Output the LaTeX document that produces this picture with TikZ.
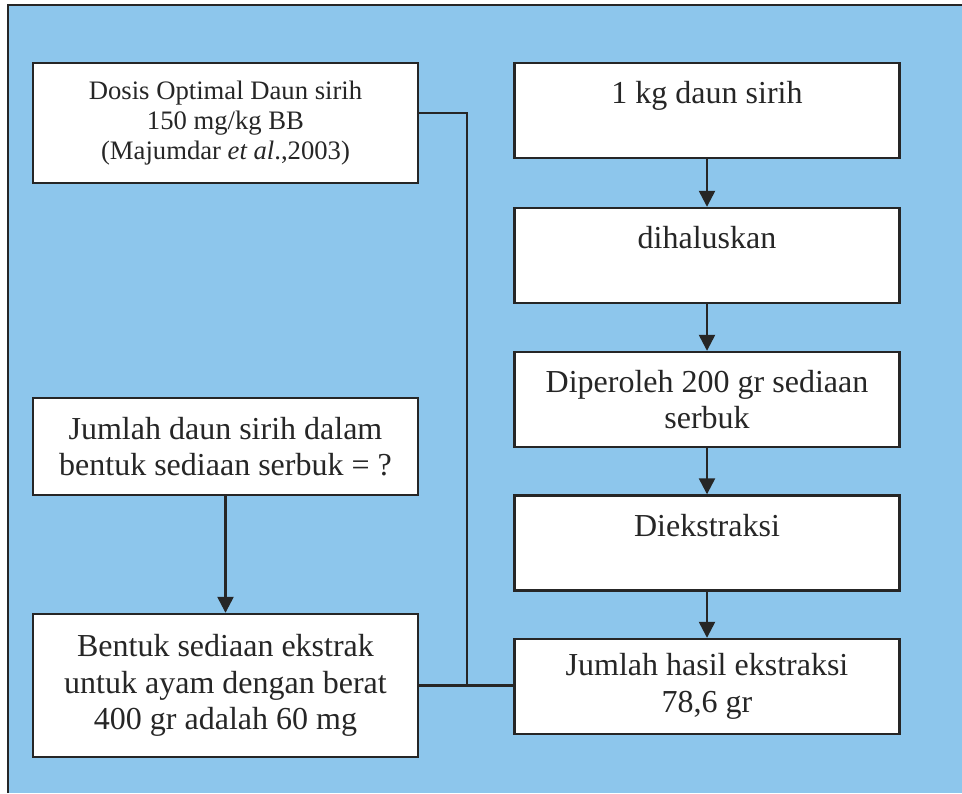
\documentclass[tikz,border=0pt]{standalone}
\usepackage{fontspec}
\setmainfont{Liberation Serif}
\usetikzlibrary{arrows.meta}
\definecolor{bgblue}{RGB}{141,198,236}
\definecolor{inkgray}{RGB}{38,38,38}
\tikzset{
  box/.style={draw=inkgray, line width=1.8pt, fill=white, text=inkgray, align=center, inner sep=0pt,
    minimum width=289pt, minimum height=71.25pt, font=\fontsize{24}{27.5}\selectfont},
  onerow/.style={text height=16pt, text depth=26.5pt},
  flow/.style={draw=inkgray, line width=1.8pt, -{Triangle[length=12pt,width=12pt]}},
  link/.style={draw=inkgray, line width=1.8pt},
}
\begin{document}
\begin{tikzpicture}[x=0.75pt,y=0.75pt,yscale=-1,xscale=1]
\useasboundingbox (0,0) rectangle (962,793);

%Shape: Rectangle [background]
\fill [bgblue] (8,5) rectangle (962,793);
\draw [link] (8,793) -- (8,5) -- (962,5);

%Left column
\node [box, minimum height=90pt, font=\fontsize{20}{22.5}\selectfont] (dosis) at (225.5,123) {Dosis Optimal Daun sirih\\150 mg/kg BB\\(Majumdar \textit{et al}.,2003)};
\node [box, minimum height=72.75pt] (jumlah) at (225.5,446.5) {Jumlah daun sirih dalam\\bentuk sediaan serbuk = ?};
\node [box, minimum height=107.25pt] (bentuk) at (225.5,685.5) {Bentuk sediaan ekstrak\\untuk ayam dengan berat\\400 gr adalah 60 mg};

%Right column
\node [box, onerow] (daun) at (707,110.5) {1 kg daun sirih};
\node [box, onerow] (halus) at (707,255.5) {dihaluskan};
\node [box] (serbuk) at (707,399.5) {Diperoleh 200 gr sediaan\\serbuk};
\node [box, onerow] (ekstraksi) at (707,543) {Diekstraksi};
\node [box] (hasil) at (707,686.5) {Jumlah hasil ekstraksi\\78,6 gr};

%Arrows
\draw [flow] (jumlah) -- (bentuk);
\draw [flow] (daun) -- (halus);
\draw [flow] (halus) -- (serbuk);
\draw [flow] (serbuk) -- (ekstraksi);
\draw [flow] (ekstraksi) -- (hasil);

%Straight Lines [joining]
\coordinate (join) at (467,686);
\draw [link] ([yshift=-7.5pt]dosis.east) -| (join);
\draw [link] (bentuk.east) -- (bentuk.east -| hasil.west);

\end{tikzpicture}
\end{document}
